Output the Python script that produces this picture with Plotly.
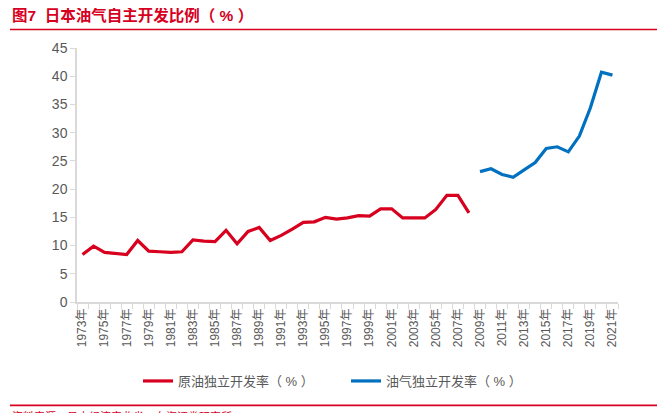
import plotly.graph_objects as go

years_oil = list(range(1973, 2009))
oil_rate = [8.4, 9.9, 8.8, 8.6, 8.4, 10.9, 9.0, 8.9, 8.8, 8.9, 11.0, 10.8, 10.7, 12.7, 10.3, 12.5, 13.2, 10.9,
            11.8, 12.9, 14.1, 14.2, 15.0, 14.7, 14.9, 15.3, 15.2, 16.5, 16.5, 14.9, 14.9, 14.9, 16.4, 18.9,
            18.9, 15.8]
years_gas = list(range(2009, 2022))
gas_rate = [23.1, 23.6, 22.6, 22.1, 23.4, 24.7, 27.2, 27.5, 26.6, 29.4, 34.4, 40.7, 40.2]

tick_years = list(range(1973, 2022, 2))
tick_labels = [f"{y}年" for y in tick_years]
y_ticks = list(range(0, 50, 5))

RED = "#d7001e"
BLUE = "#0070c0"
FONT = "Liberation Sans, Noto Sans CJK SC, sans-serif"
OFF = 8  # page body margin
W, H = 665 - OFF, 413 - OFF
L, R, T, B = 77 - OFF, 618 - OFF, 48 - OFF, 302.5 - OFF

fig = go.Figure()
fig.add_trace(go.Scatter(x=years_oil, y=oil_rate, mode="lines", name="原油独立开发率（ % ）",
                         line=dict(color=RED, width=3.2)))
fig.add_trace(go.Scatter(x=years_gas, y=gas_rate, mode="lines", name="油气独立开发率（ % ）",
                         line=dict(color=BLUE, width=3.2)))

def px_x(x):
    return (x - OFF - L) / (R - L)

def px_y(y):
    return (B - (y - OFF)) / (B - T)

fig.update_layout(
    width=W, height=H,
    margin=dict(l=L, r=W - R, t=T, b=H - B, autoexpand=False),
    paper_bgcolor="white", plot_bgcolor="white",
    font=dict(family=FONT, color="#595959", size=13),
    showlegend=True,
    legend=dict(orientation="h", xref="container", yref="container",
                x=(138 - OFF) / W, xanchor="left", y=1 - (381 - OFF) / H, yanchor="middle",
                bgcolor="rgba(0,0,0,0)",
                font=dict(size=13, color="#595959"), tracegroupgap=0,
                entrywidthmode="pixels", entrywidth=163),
    xaxis=dict(range=[1972.5, 2021.5], tickmode="array", tickvals=tick_years, ticktext=tick_labels,
               tickangle=-90, tickfont=dict(size=12, color="#595959"), showgrid=False,
               showline=True, linecolor="#d9d9d9", linewidth=1.5, ticks="", zeroline=False,
               automargin=False,
               minor=dict(tickmode="linear", tick0=1972.5, dtick=1, ticks="outside", ticklen=5,
                          tickcolor="#d9d9d9", tickwidth=1, showgrid=False)),
    yaxis=dict(range=[0, 45], tickmode="array", tickvals=y_ticks, showgrid=False, zeroline=False,
               showline=True, linecolor="#d9d9d9", linewidth=1.5, ticks="outside", ticklen=5,
               tickcolor="#d9d9d9", tickfont=dict(size=14, color="#595959"), automargin=False),
)

fig.add_annotation(text="<b>图7  日本油气自主开发比例（ % ）</b>", xref="paper", yref="paper",
                   x=px_x(10), y=px_y(15), xanchor="left", yanchor="middle", showarrow=False,
                   font=dict(size=15.5, color=RED, family=FONT))
fig.add_shape(type="line", xref="paper", yref="paper", x0=px_x(10), x1=px_x(662),
              y0=px_y(29.5), y1=px_y(29.5), line=dict(color=RED, width=1.5))
fig.add_shape(type="line", xref="paper", yref="paper", x0=px_x(10), x1=px_x(662),
              y0=px_y(406), y1=px_y(406), line=dict(color=RED, width=1.8))
fig.add_annotation(text="资料来源：日本经济产业省，东海证券研究所", xref="paper", yref="paper",
                   x=px_x(10), y=px_y(409), xanchor="left", yanchor="top", showarrow=False,
                   font=dict(size=11, color=RED, family=FONT))

fig.write_html("out.html")
